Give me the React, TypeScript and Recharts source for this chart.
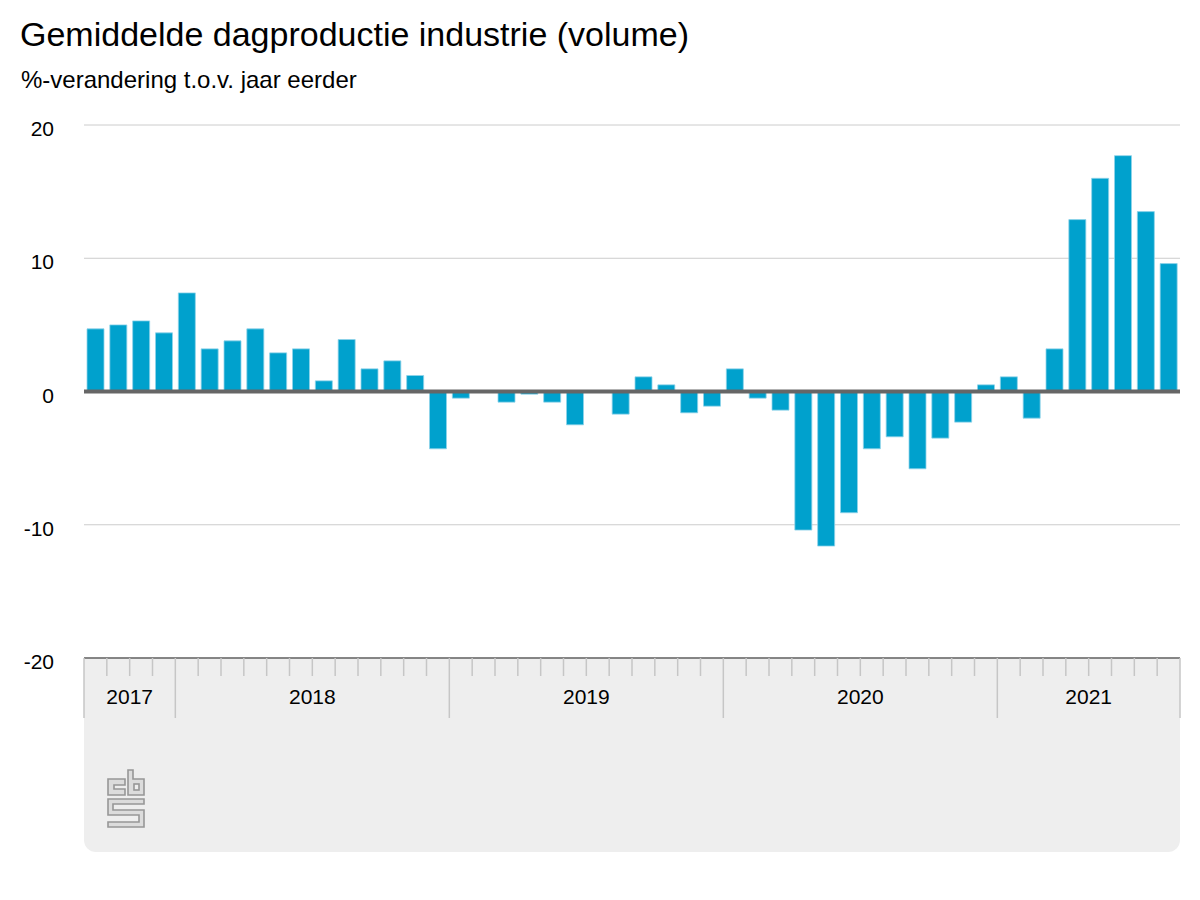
import React from "react";
import { BarChart, Bar, XAxis, YAxis, CartesianGrid, ReferenceLine } from "recharts";

const categories = [
  "2017-09", "2017-10", "2017-11", "2017-12",
  "2018-01", "2018-02", "2018-03", "2018-04", "2018-05", "2018-06",
  "2018-07", "2018-08", "2018-09", "2018-10", "2018-11", "2018-12",
  "2019-01", "2019-02", "2019-03", "2019-04", "2019-05", "2019-06",
  "2019-07", "2019-08", "2019-09", "2019-10", "2019-11", "2019-12",
  "2020-01", "2020-02", "2020-03", "2020-04", "2020-05", "2020-06",
  "2020-07", "2020-08", "2020-09", "2020-10", "2020-11", "2020-12",
  "2021-01", "2021-02", "2021-03", "2021-04", "2021-05", "2021-06",
  "2021-07", "2021-08",
];

const values = [
  4.7, 5.0, 5.3, 4.4,
  7.4, 3.2, 3.8, 4.7, 2.9, 3.2, 0.8, 3.9, 1.7, 2.3, 1.2, -4.3,
  -0.5, 0, -0.8, -0.2, -0.8, -2.5, 0, -1.7, 1.1, 0.5, -1.6, -1.1,
  1.7, -0.5, -1.4, -10.4, -11.6, -9.1, -4.3, -3.4, -5.8, -3.5, -2.3, 0.5,
  1.1, -2.0, 3.2, 12.9, 16.0, 17.7, 13.5, 9.6,
];

const yTicks = [-20, -10, 0, 10, 20];

const title = "Gemiddelde dagproductie industrie (volume)";
const subtitle = "%-verandering t.o.v. jaar eerder";

const data = categories.map((month, i) => ({ month, value: values[i] }));

const FONT = "'Liberation Sans', Arial, Helvetica, sans-serif";
const PLOT_LEFT = 84;
const PLOT_RIGHT = 1180;
const PLOT_TOP = 125;
const PLOT_BOTTOM = 658;
const PLOT_W = PLOT_RIGHT - PLOT_LEFT;

const MonthTick = (props: any) => {
  const { x, y, payload } = props;
  const idx = categories.indexOf(payload.value);
  const bw = PLOT_W / categories.length;
  const left = x - bw / 2;
  const yr = payload.value.slice(0, 4);
  const firstOfYear = idx === 0 || categories[idx - 1].slice(0, 4) !== yr;
  const isLast = idx === categories.length - 1;
  const count = categories.filter((c) => c.startsWith(yr)).length;
  const tickColor = "#c6c6c6";
  return (
    <g>
      <line
        x1={left}
        x2={left}
        y1={y}
        y2={y + (firstOfYear ? 60 : 18)}
        stroke={tickColor}
        strokeWidth={1.5}
      />
      {isLast && (
        <line x1={left + bw} x2={left + bw} y1={y} y2={y + 60} stroke={tickColor} strokeWidth={1.5} />
      )}
      {firstOfYear && (
        <text
          x={left + (count * bw) / 2}
          y={y + 46}
          textAnchor="middle"
          fontSize={21}
          fontFamily={FONT}
          fill="#000"
        >
          {yr}
        </text>
      )}
    </g>
  );
};

const ValueTick = (props: any) => {
  const { y, payload } = props;
  return (
    <text x={54} y={y + 11} textAnchor="end" fontSize={21} fontFamily={FONT} fill="#000">
      {payload.value}
    </text>
  );
};

const CbsLogo = () => (
  <svg
    width={40}
    height={60}
    style={{ position: "absolute", left: 107, top: 769 }}
    viewBox="-1 -1 40 60"
  >
    <g fill="#dcdcdc" stroke="#979797" strokeWidth={1.6} strokeLinejoin="miter">
      <path d="M0,9 H17 V15 H6 V19 H17 V25 H0 Z" />
      <path d="M20,0 H25 V9 H36 V25 H20 Z" />
      <rect x={26} y={14} width={5} height={6} fill="#eeeeee" />
      <path d="M0,29 H36 V34 H5 V40 H36 V57 H0 V52 H31 V45 H0 Z" />
    </g>
  </svg>
);

export default function App() {
  return (
    <div
      style={{
        position: "absolute",
        left: 0,
        top: 0,
        width: 1200,
        height: 900,
        background: "#fff",
        fontFamily: FONT,
      }}
    >
      <svg width={1200} height={110} style={{ position: "absolute", left: 0, top: 0 }}>
        <text x={20} y={46} fontSize={34} fontFamily={FONT} fill="#000">
          {title}
        </text>
        <text x={21} y={88} fontSize={24} fontFamily={FONT} fill="#000">
          {subtitle}
        </text>
      </svg>
      <div
        style={{
          position: "absolute",
          left: PLOT_LEFT,
          top: PLOT_BOTTOM,
          width: PLOT_W,
          height: 194,
          background: "#eeeeee",
          borderRadius: "0 0 12px 12px",
        }}
      />
      <CbsLogo />
      <div style={{ position: "absolute", left: 0, top: 0 }}>
        <BarChart
          width={1200}
          height={900}
          data={data}
          margin={{ top: PLOT_TOP, right: 1200 - PLOT_RIGHT, bottom: 900 - PLOT_BOTTOM - 61, left: 0 }}
          barSize={17}
        >
          <CartesianGrid vertical={false} stroke="#cccccc" strokeWidth={1} />
          <YAxis
            type="number"
            domain={[-20, 20]}
            ticks={yTicks}
            width={PLOT_LEFT}
            axisLine={false}
            tickLine={false}
            tick={<ValueTick />}
            interval={0}
          />
          <XAxis
            dataKey="month"
            type="category"
            height={61}
            interval={0}
            tickLine={false}
            tickSize={0}
            tickMargin={0}
            axisLine={{ stroke: "#666666", strokeWidth: 1.5 }}
            tick={<MonthTick />}
          />
          <Bar
            dataKey="value"
            fill="#00a1cd"
            stroke="#8fd3ea"
            strokeWidth={0.8}
            isAnimationActive={false}
          />
          <ReferenceLine y={0} stroke="#666666" strokeWidth={4} />
        </BarChart>
      </div>
    </div>
  );
}
